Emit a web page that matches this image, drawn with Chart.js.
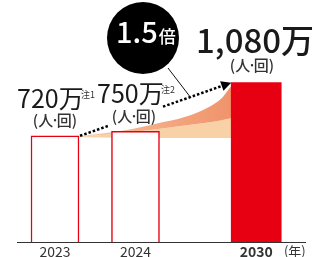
<!DOCTYPE html>
<html><head><meta charset="utf-8">
<script src="https://cdn.jsdelivr.net/npm/chart.js@4"></script>
<style>html,body{margin:0;padding:0;background:#fff}#w{width:314px;height:257px}</style>
</head><body><div id="w"><canvas id="c" width="314" height="257"></canvas></div>
<script>
// ---- data ----
const years = ['2023', '2024', '2030'];
const yearPos = [0, 1, 2.5];
const visitors = [720, 750, 1080];   // 万(人·回)
const notes = ['注1', '注2', ''];
const tickPos = [0, 1, 2.5, 2.98];
const tickLabels = ['2023', '2024', '2030', '(年)'];
const ratioLabel = '1.5';
// growth wedge (decorative)
const wedgeX =     [0.30, 0.87, 1.28, 1.61, 1.90, 2.07, 2.20, 2.35];
const wedgeBase =  [712, 705, 705, 705, 705, 705, 705, 705];
const wedgeMid =   [714, 739, 766, 790, 810, 826, 841, 850];
const wedgeTop =   [716, 757, 805, 847, 912, 975, 1060, 1080];

const RED = '#e60012';
const FONT = '"Noto Sans CJK JP", "Noto Sans", sans-serif';

const pts = (xs, ys) => xs.map((x, i) => ({x, y: ys[i]}));

function unitLabel(ctx, cx, cy) {
  // "(人·回)" with a tight middle dot
  const parts = ['(人', '·', '回)'];
  const gap = -2.5;
  const ws = parts.map(p => ctx.measureText(p).width);
  const total = ws[0] + ws[1] + ws[2] + gap * 2;
  let x = cx - total / 2;
  ctx.textAlign = 'left';
  parts.forEach((p, i) => { ctx.fillText(p, x, cy); x += ws[i] + gap; });
}

const annot = {
  id: 'annot',
  afterDatasetsDraw(chart) {
    const {ctx, scales: {x, y}} = chart;
    ctx.save();
    // dotted arrow line
    const x0 = x.getPixelForValue(yearPos[0]) + 25, y0 = y.getPixelForValue(visitors[0]);
    const x1 = x.getPixelForValue(yearPos[2]) - 25, y1 = y.getPixelForValue(visitors[2]);
    const at = px => y0 + (y1 - y0) * (px - x0) / (x1 - x0);
    const ang = Math.atan2(y1 - y0, x1 - x0);
    const ex = x1 - 8 * Math.cos(ang), ey = y1 - 8 * Math.sin(ang);
    ctx.strokeStyle = '#000'; ctx.lineWidth = 2.5; ctx.setLineDash([2.5, 2]);
    ctx.beginPath(); ctx.moveTo(x0, y0); ctx.lineTo(108, at(108)); ctx.stroke();
    ctx.beginPath(); ctx.moveTo(163, at(163)); ctx.lineTo(ex, ey); ctx.stroke();
    ctx.setLineDash([]);
    ctx.fillStyle = '#000';
    ctx.beginPath();
    ctx.moveTo(x1, y1);
    ctx.lineTo(x1 - 10 * Math.cos(ang) + 5 * Math.sin(ang), y1 - 10 * Math.sin(ang) - 5 * Math.cos(ang));
    ctx.lineTo(x1 - 10 * Math.cos(ang) - 5 * Math.sin(ang), y1 - 10 * Math.sin(ang) + 5 * Math.cos(ang));
    ctx.closePath(); ctx.fill();

    // pointer line + circle
    ctx.lineWidth = 1; ctx.strokeStyle = '#111';
    ctx.beginPath(); ctx.moveTo(168, 68); ctx.lineTo(191, 98); ctx.stroke();
    ctx.fillStyle = '#000';
    ctx.beginPath(); ctx.arc(143, 38, 36, 0, Math.PI * 2); ctx.fill();
    ctx.fillStyle = '#fff'; ctx.textBaseline = 'alphabetic'; ctx.textAlign = 'left';
    ctx.font = '500 29px ' + FONT;
    ctx.fillText(ratioLabel, 116, 43);
    const w15 = ctx.measureText(ratioLabel).width;
    ctx.font = '500 17px ' + FONT;
    ctx.fillText('倍', 116 + w15 + 1, 43);

    // value labels
    const fmt = v => v.toLocaleString('en-US') + '万';
    ctx.fillStyle = '#1a1a1a';
    ctx.font = '400 25px ' + FONT;
    ctx.fillText(fmt(visitors[0]), 17, 108);
    ctx.fillText(fmt(visitors[1]), 97, 103);
    ctx.font = '400 9px ' + FONT; ctx.fillStyle = '#333';
    ctx.fillText(notes[0], 81, 97.5);
    ctx.fillText(notes[1], 161, 92.5);
    ctx.fillStyle = '#1a1a1a';
    ctx.font = '500 33px ' + FONT;
    ctx.fillText(fmt(visitors[2]), 196, 53);
    ctx.textBaseline = 'middle';
    ctx.fillStyle = '#333';
    ctx.font = '500 15px ' + FONT;
    unitLabel(ctx, 55, 120);
    unitLabel(ctx, 134, 116);
    unitLabel(ctx, 252, 65);
    ctx.restore();
  }
};

new Chart(document.getElementById('c'), {
  type: 'bar',
  data: {
    datasets: [
      {
        data: pts(yearPos.slice(0, 2), visitors.slice(0, 2)),
        backgroundColor: '#fff', borderColor: RED, borderWidth: 1.5,
        barThickness: 48, grouped: false, order: 0
      },
      {
        data: pts(yearPos.slice(2), visitors.slice(2)),
        backgroundColor: RED, borderWidth: 0,
        barThickness: 50, grouped: false, order: 0
      },
      {
        type: 'line', data: pts(wedgeX, wedgeBase), borderWidth: 0, pointRadius: 0,
        fill: false, order: 5
      },
      {
        type: 'line', data: pts(wedgeX, wedgeMid), borderWidth: 0, pointRadius: 0,
        cubicInterpolationMode: 'monotone', fill: '-1', backgroundColor: '#f9d1a7', order: 4
      },
      {
        type: 'line', data: pts(wedgeX, wedgeTop), borderWidth: 0, pointRadius: 0,
        cubicInterpolationMode: 'monotone', fill: '-1', order: 3,
        backgroundColor: (c) => {
          const a = c.chart.chartArea; if (!a) return '#f19a73';
          const g = c.chart.ctx.createLinearGradient(80, 0, 232, 0);
          g.addColorStop(0, '#f8cda6'); g.addColorStop(0.45, '#f4ad86'); g.addColorStop(1, '#f0936b');
          return g;
        }
      }
    ]
  },
  options: {
    responsive: false, animation: false,
    layout: {padding: {left: 17, right: 9, top: 6, bottom: -5}},
    plugins: {legend: {display: false}, tooltip: {enabled: false}},
    scales: {
      x: {
        type: 'linear', min: -0.472, max: 3.106, offset: false,
        grid: {display: false, drawTicks: false},
        border: {display: true, color: '#333', width: 1},
        afterBuildTicks: (s) => { s.ticks = tickPos.map(v => ({value: v})); },
        ticks: {
          autoSkip: false, maxRotation: 0, padding: 3, color: '#333',
          callback: (v, i) => tickLabels[i],
          font: (c) => ({family: FONT, size: c.index === 3 ? 13 : 14,
            weight: c.index === 2 ? 'bold' : 'normal', lineHeight: 1})
        }
      },
      y: {display: false, min: 0, max: 1600}
    }
  },
  plugins: [annot]
});
</script></body></html>
